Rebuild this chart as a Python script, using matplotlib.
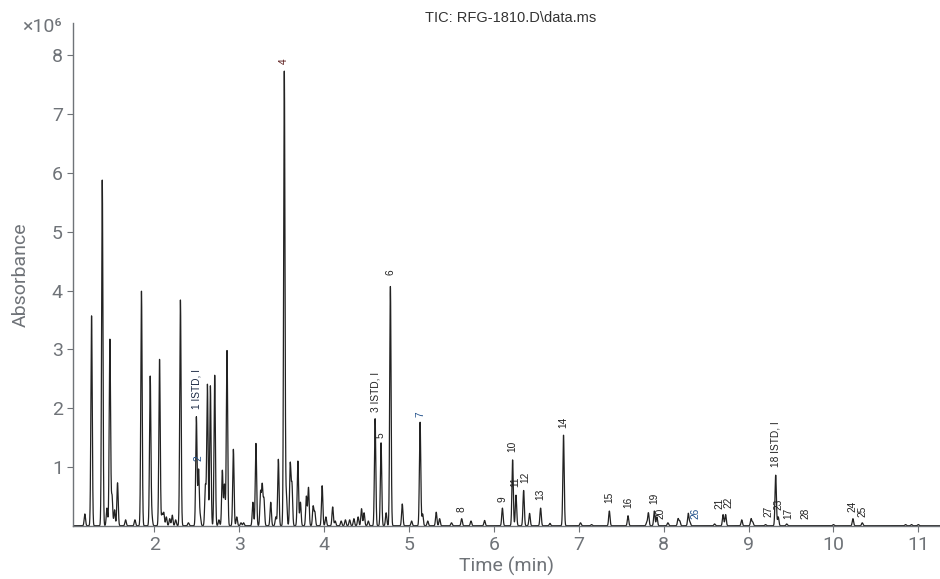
import numpy as np
import matplotlib
matplotlib.use("Agg")
import matplotlib.pyplot as plt

# peak table (retention time in min, height in 1e6 counts)
peak_times = [1.18, 1.259, 1.385, 1.44, 1.475, 1.50, 1.53, 1.565, 1.66, 1.77,
              1.847, 1.95, 1.97, 2.06, 2.09, 2.11, 2.14, 2.18, 2.21, 2.25,
              2.306, 2.40, 2.494, 2.52, 2.54, 2.60, 2.624, 2.659, 2.71, 2.76,
              2.80, 2.825, 2.855, 2.93, 2.97, 3.02, 3.05, 3.16, 3.196, 3.25,
              3.27, 3.29, 3.37, 3.43, 3.46, 3.53, 3.555, 3.60, 3.62, 3.69,
              3.72, 3.79, 3.815, 3.87, 3.89, 3.976, 4.02, 4.10, 4.13, 4.20,
              4.25, 4.30, 4.35, 4.40, 4.44, 4.47, 4.52, 4.60, 4.67, 4.73,
              4.78, 4.92, 5.03, 5.13, 5.16, 5.22, 5.32, 5.36, 5.50, 5.62,
              5.73, 5.89, 6.10, 6.22, 6.26, 6.35, 6.42, 6.55, 6.66, 6.82,
              7.02, 7.15, 7.36, 7.58, 7.80, 7.82, 7.89, 7.92, 8.05, 8.17,
              8.19, 8.29, 8.31, 8.60, 8.70, 8.73, 8.92, 9.03, 9.05, 9.20,
              9.32, 9.35, 9.45, 10.00, 10.23, 10.34, 10.85, 10.92, 11.00]
peak_heights = [0.20, 3.57, 5.88, 0.30, 3.17, 0.51, 0.27, 0.73, 0.10, 0.10,
                3.99, 2.54, 0.15, 2.83, 0.20, 0.22, 0.15, 0.12, 0.18, 0.10,
                3.84, 0.05, 1.85, 0.95, 0.15, 0.68, 2.40, 2.38, 2.56, 0.10,
                0.94, 0.70, 2.98, 1.30, 0.15, 0.05, 0.05, 0.40, 1.40, 0.57,
                0.68, 0.45, 0.40, 0.15, 1.13, 7.73, 0.50, 1.05, 0.70, 1.10,
                0.40, 0.50, 0.65, 0.33, 0.23, 0.68, 0.15, 0.32, 0.08, 0.08,
                0.10, 0.10, 0.12, 0.15, 0.29, 0.22, 0.08, 1.82, 1.41, 0.22,
                4.07, 0.37, 0.08, 1.76, 0.20, 0.08, 0.23, 0.12, 0.05, 0.12,
                0.08, 0.09, 0.30, 1.12, 0.52, 0.60, 0.21, 0.30, 0.04, 1.54,
                0.05, 0.02, 0.25, 0.17, 0.05, 0.22, 0.25, 0.15, 0.05, 0.12,
                0.08, 0.21, 0.06, 0.03, 0.19, 0.19, 0.10, 0.12, 0.06, 0.02,
                0.86, 0.15, 0.03, 0.02, 0.12, 0.05, 0.02, 0.02, 0.02]

# peak annotations: text, time, height of label base
label_texts = ["1 ISTD, I", "2", "3 ISTD, I", "4", "5", "6", "7", "8", "9", "10",
               "11", "12", "13", "14", "15", "16", "19", "20", "26", "21", "22",
               "27", "23", "17", "18 ISTD, I", "28", "24", "25"]
label_times = [2.494, 2.52, 4.60, 3.53, 4.67, 4.78, 5.13, 5.62, 6.10, 6.22,
               6.25, 6.365, 6.55, 6.82, 7.36, 7.58, 7.89, 7.965, 8.38, 8.655, 8.765,
               9.235, 9.355, 9.465, 9.32, 9.67, 10.22, 10.34]
label_heights = [1.98, 1.10, 1.93, 7.85, 1.50, 4.27, 1.85, 0.24, 0.41, 1.25,
                 0.66, 0.73, 0.44, 1.66, 0.39, 0.30, 0.37, 0.12, 0.12, 0.29, 0.31,
                 0.15, 0.26, 0.12, 1.00, 0.12, 0.24, 0.15]
label_colors = ["#1c2a44", "#1f4f8a", "#222222", "#5a1a1a", "#222222", "#222222",
                "#1f4f8a", "#222222", "#222222", "#222222", "#222222", "#222222",
                "#222222", "#222222", "#222222", "#222222", "#222222", "#222222",
                "#1f4f8a", "#222222", "#222222", "#222222", "#222222", "#222222",
                "#222222", "#222222", "#222222", "#222222"]

gray = "#6f7378"

# build the trace: each peak drawn as a narrow gaussian
t = np.arange(1.04, 11.26, 0.001)
signal = np.zeros_like(t)
sigma = 0.008
for t0, h in zip(peak_times, peak_heights):
    signal += h * np.exp(-0.5 * ((t - t0) / sigma) ** 2)

fig = plt.figure(figsize=(9.4, 5.79), dpi=100)
ax = fig.add_axes([0.078, 0.092, 0.922, 0.868])

ax.plot(t, signal, color="#222222", lw=0.9)

for txt, tx, hy, c in zip(label_texts, label_times, label_heights, label_colors):
    ax.text(tx, hy, txt, rotation=90, ha="center", va="bottom", fontsize=7.3,
            color=c, family="Liberation Sans")

ax.set_xlim(1.044, 11.256)
ax.set_ylim(0, 8.55)
ax.set_xticks(range(2, 12))
ax.set_yticks(range(1, 9))

for side in ["top", "right"]:
    ax.spines[side].set_visible(False)
for side in ["left", "bottom"]:
    ax.spines[side].set_color(gray)
    ax.spines[side].set_linewidth(1.0)

ax.tick_params(axis="both", colors=gray, labelsize=14, length=4, width=0.8)
for lab in ax.get_xticklabels() + ax.get_yticklabels():
    lab.set_family("Roboto")

ax.set_xlabel("Time (min)", fontsize=14, color=gray, family="Roboto", labelpad=2)
ax.set_ylabel("Absorbance", fontsize=14, color=gray, family="Roboto", labelpad=16)

fig.text(0.066, 0.953, "×10⁶", ha="right", va="center", fontsize=14,
         color=gray, family=["Roboto", "DejaVu Sans"])
fig.text(0.543, 0.969, "TIC: RFG-1810.D\\data.ms", ha="center", va="center",
         fontsize=10.5, color="#333333", family="Liberation Sans")

fig.savefig("out.png", dpi=100)
